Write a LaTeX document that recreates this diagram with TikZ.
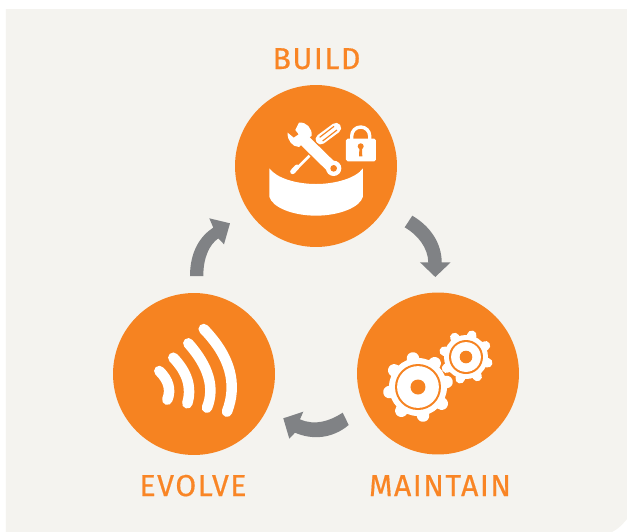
\documentclass[tikz,border=0pt]{standalone}
\usepackage{fontspec}
\setmainfont[LetterSpace=5,FakeBold=0.5]{Fira Sans}
\definecolor{panelbg}{HTML}{F4F3EF}
\definecolor{brandorange}{HTML}{F68321}
\definecolor{labelorange}{HTML}{F98525}
\definecolor{arrowgrey}{HTML}{808285}
\newcommand{\px}{0.56906pt}
\newcommand{\geardraw}[7]{% x,y,rot,body,toothend,toothw,ringr
  \begin{scope}[shift={(#1,#2)}]
    \fill[white] (0,0) circle[radius=#4];
    \foreach \a in {0,45,...,315}{
      \draw[white,line width=#6*\px,line cap=round] (0,0) -- ({#5*cos(\a+#3)},{-#5*sin(\a+#3)});
    }
    \fill[brandorange] (0,0) circle[radius=#7];
    \fill[white] (0,0) circle[radius=#7-2.1];
  \end{scope}}
\tikzset{
  x=0.02cm,y=-0.02cm,
  disc/.style={circle,fill=brandorange,minimum size=3.24cm,inner sep=0pt},
  steplabel/.style={text=labelorange,font=\fontsize{17.2pt}{20pt}\selectfont,inner sep=0pt,anchor=base},
  flowarrow/.style={fill=arrowgrey},
  icon/.style={white,line cap=round,line join=round}
}
\begin{document}
\begin{tikzpicture}
\useasboundingbox (0,0) rectangle (627,532);
\fill[white] (0,0) rectangle (627,532);
\fill[panelbg] (6,9) -- (627,9) -- (627,519) .. controls (622,525) and (618,529) .. (612,532) -- (6,532) -- cycle;

\node[disc] (build) at (316,166) {};
\node[disc] (maintain) at (438,373.5) {};
\node[disc] (evolve) at (194,374) {};

\node[steplabel] (buildlabel) at (316.5,69) {BUILD};
\node[steplabel] (evolvelabel) at (193,496) {EVOLVE};
\node[steplabel] (maintainlabel) at (440,496) {MAINTAIN};

% arrows
\fill[flowarrow] (190,276) .. controls (190,252) and (200,236) .. (213.3,227.7) -- (209.3,218.3) -- (230,223.3) -- (224,244.3) -- (218.3,238.3) .. controls (209,245) and (203.3,258) .. (203.3,276) -- cycle;
\fill[flowarrow] (412.3,215.7) .. controls (430,226) and (441.7,243) .. (441.7,262.3) -- (450.7,262.3) -- (435.3,277) -- (420,262.3) -- (428.3,262.3) .. controls (428,248) and (418,235) .. (404.7,227.3) -- cycle;
\fill[flowarrow] (342.7,412.7) .. controls (330,421) and (315,426) .. (300,419.3) -- (303.3,411.7) -- (283.3,418.3) -- (289.3,438.7) -- (295,432.7) .. controls (312,440) and (332,439) .. (348.7,425) -- cycle;

% build icon (zoom coordinates)
\begin{scope}[shift={(235,85)},scale=1/3]
  \fill[white] (103,250) .. controls (125,280) and (185,297) .. (243,297) .. controls (300,297) and (362,280) .. (384,250) -- (384,335) .. controls (375,368) and (310,392) .. (243,392) .. controls (175,392) and (112,368) .. (103,335) -- cycle;
  % screwdriver
  \draw[icon,line width=15*\px/3] (173,260) -- (186,246);
  \draw[white,line width=8*\px/3] (172,263) -- (224,212);
  \draw[icon,line width=31*\px/3] (257,163) -- (303,129);
  \draw[brandorange,line width=3.5*\px/3] (254,157) -- (297,124);
  \draw[brandorange,line width=3.5*\px/3] (263,168) -- (306,135);
  % wrench
  \draw[brandorange,line width=42*\px/3] (205,163) -- (294,250);
  \fill[white] (192,113) -- (181,135) -- (191,148) -- (176,158) -- (158,143) .. controls (156,165) and (172,186) .. (192,186) -- (230,152) .. controls (232,130) and (214,110) .. (192,113) -- cycle;
  \draw[white,line width=35*\px/3] (205,163) -- (294,250);
  \fill[white] (296,250) circle[radius=23];
  \fill[brandorange] (296,250) circle[radius=10];
\end{scope}

% lock
\draw[white,line width=3.4*\px] (351.7,140) -- (351.7,136) arc[start angle=180,end angle=360,radius=9] -- (369.7,140);
\fill[white,rounded corners=1pt] (346,138.7) rectangle (376,161.3);
\fill[brandorange] (360.7,146.3) circle[radius=3];
\fill[brandorange] (359.4,147) -- (362,147) -- (362.3,156.3) -- (359.1,156.3) -- cycle;

% gears
\geardraw{418}{387}{10}{29}{29}{12.5}{23}
\fill[brandorange] (418,387) circle[radius=7.5];
\geardraw{466}{357}{30}{22}{22.5}{9.5}{17}
\fill[brandorange] (466,357) circle[radius=6.3];

% waves
\begin{scope}[white,line cap=round,line width=10.5*\px]
  \draw (159.3,371) .. controls (168.6,380.1) and (171.3,389.7) .. (167.3,399.7);
  \draw (173.3,357.7) .. controls (187.3,372.2) and (192,387.4) .. (187.3,403.3);
  \draw (188.3,343.3) .. controls (208.8,366.4) and (215,387.8) .. (207,407.7);
  \draw (203.7,329) .. controls (230.1,356.1) and (237.8,383.7) .. (227,411.7);
\end{scope}
\end{tikzpicture}
\end{document}
